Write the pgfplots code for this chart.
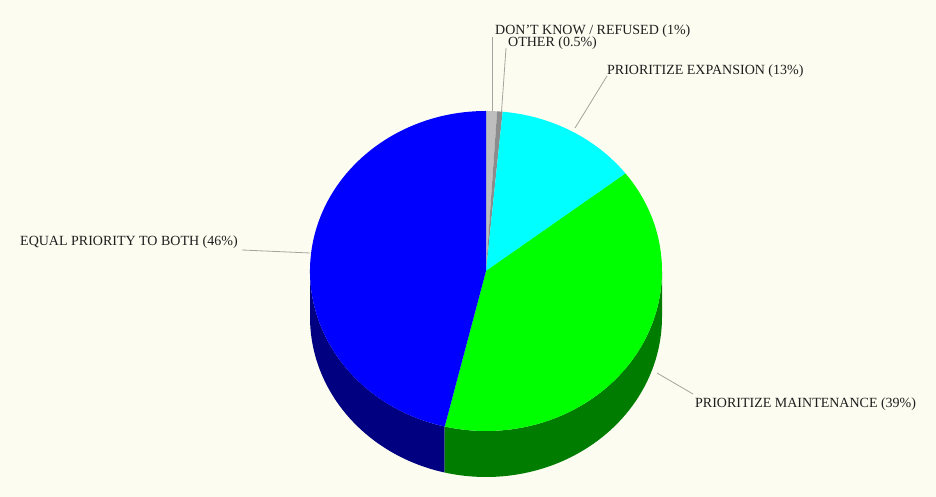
\documentclass[border=0pt]{standalone}
\usepackage{pgfplots}
\usepackage{pgfplotstable}
\pgfplotsset{compat=1.18}
\usepackage{fontspec}
\setmainfont{Liberation Serif}

\definecolor{bgc}{RGB}{252,252,240}
\definecolor{cDK}{RGB}{190,190,190}
\definecolor{cOT}{RGB}{140,140,140}
\definecolor{cEX}{RGB}{0,255,255}
\definecolor{cMA}{RGB}{0,255,0}
\definecolor{cMAd}{RGB}{0,125,0}
\definecolor{cEQ}{RGB}{0,0,255}
\definecolor{cEQd}{RGB}{0,0,128}
\definecolor{leader}{RGB}{165,165,160}
\definecolor{txt}{RGB}{30,30,30}

\pgfplotstableread[col sep=comma]{
label,value
DON'T KNOW / REFUSED,1
OTHER,0.5
PRIORITIZE EXPANSION,13
PRIORITIZE MAINTENANCE,39
EQUAL PRIORITY TO BOTH,46
}\piedata

\begin{document}%
\begin{tikzpicture}
\pgfplotstablegetelem{0}{value}\of\piedata\let\vA\pgfplotsretval
\pgfplotstablegetelem{1}{value}\of\piedata\let\vB\pgfplotsretval
\pgfplotstablegetelem{2}{value}\of\piedata\let\vC\pgfplotsretval
\pgfplotstablegetelem{3}{value}\of\piedata\let\vD\pgfplotsretval
\pgfplotstablegetelem{4}{value}\of\piedata\let\vE\pgfplotsretval
\pgfplotstablegetelem{0}{label}\of\piedata\let\lA\pgfplotsretval
\pgfplotstablegetelem{1}{label}\of\piedata\let\lB\pgfplotsretval
\pgfplotstablegetelem{2}{label}\of\piedata\let\lC\pgfplotsretval
\pgfplotstablegetelem{3}{label}\of\piedata\let\lD\pgfplotsretval
\pgfplotstablegetelem{4}{label}\of\piedata\let\lE\pgfplotsretval
\pgfmathsetmacro{\tot}{\vA+\vB+\vC+\vD+\vE}
\pgfmathsetmacro{\aA}{90}
\pgfmathsetmacro{\aB}{\aA-360*(\vA/\tot)}
\pgfmathsetmacro{\aC}{\aB-360*(\vB/\tot)}
\pgfmathsetmacro{\aD}{\aC-360*(\vC/\tot)}
\pgfmathsetmacro{\aE}{\aD-360*(\vD/\tot)}
\pgfmathsetmacro{\aF}{\aE-360*(\vE/\tot)}
\def\cx{486}
\def\cy{226}
\def\rx{176}
\def\ry{160}
\def\dep{46}
\begin{axis}[
  x=1pt, y=1pt,
  xmin=0, xmax=936, ymin=0, ymax=497,
  hide axis,
  clip=false,
]
\fill[bgc] (axis cs:0,0) rectangle (axis cs:936,497);
% sides (visible lower half)
\fill[cEQd] (axis cs:{\cx+\rx*cos(-180)},{\cy+\ry*sin(-180)})
  arc[start angle=-180, end angle=\aE, x radius=\rx pt, y radius=\ry pt]
  -- ++(0pt,-\dep pt)
  arc[start angle=\aE, end angle=-180, x radius=\rx pt, y radius=\ry pt] -- cycle;
\fill[cMAd] (axis cs:{\cx+\rx*cos(\aE)},{\cy+\ry*sin(\aE)})
  arc[start angle=\aE, end angle=0, x radius=\rx pt, y radius=\ry pt]
  -- ++(0pt,-\dep pt)
  arc[start angle=0, end angle=\aE, x radius=\rx pt, y radius=\ry pt] -- cycle;
% top slices
\fill[cDK] (axis cs:\cx,\cy) -- (axis cs:{\cx+\rx*cos(\aA)},{\cy+\ry*sin(\aA)})
  arc[start angle=\aA, end angle=\aB, x radius=\rx pt, y radius=\ry pt] -- cycle;
\fill[cOT] (axis cs:\cx,\cy) -- (axis cs:{\cx+\rx*cos(\aB)},{\cy+\ry*sin(\aB)})
  arc[start angle=\aB, end angle=\aC, x radius=\rx pt, y radius=\ry pt] -- cycle;
\fill[cEX] (axis cs:\cx,\cy) -- (axis cs:{\cx+\rx*cos(\aC)},{\cy+\ry*sin(\aC)})
  arc[start angle=\aC, end angle=\aD, x radius=\rx pt, y radius=\ry pt] -- cycle;
\fill[cMA] (axis cs:\cx,\cy) -- (axis cs:{\cx+\rx*cos(\aD)},{\cy+\ry*sin(\aD)})
  arc[start angle=\aD, end angle=\aE, x radius=\rx pt, y radius=\ry pt] -- cycle;
\fill[cEQ] (axis cs:\cx,\cy) -- (axis cs:{\cx+\rx*cos(\aE)},{\cy+\ry*sin(\aE)})
  arc[start angle=\aE, end angle=\aF, x radius=\rx pt, y radius=\ry pt] -- cycle;
% leader lines
\draw[leader, line width=0.8pt] (axis cs:492,386) -- (axis cs:492,460);
\draw[leader, line width=0.8pt] (axis cs:501.5,385) -- (axis cs:506,449);
\draw[leader, line width=0.8pt] (axis cs:575,369) -- (axis cs:607,421);
\draw[leader, line width=0.8pt] (axis cs:310,244) -- (axis cs:242,247);
\draw[leader, line width=0.8pt] (axis cs:657,124) -- (axis cs:693,103);
% labels
\tikzset{lab/.style={anchor=west, inner sep=0pt, text=txt, font=\fontsize{14}{16}\selectfont}}
\node[lab] at (axis cs:495,466) {\lA{} (\vA\%)};
\node[lab] at (axis cs:508,454) {\lB{} (\vB\%)};
\node[lab] at (axis cs:607,426) {\lC{} (\vC\%)};
\node[lab] at (axis cs:20,255) {\lE{} (\vE\%)};
\node[lab] at (axis cs:695,93) {\lD{} (\vD\%)};
\end{axis}
\end{tikzpicture}%
\end{document}
